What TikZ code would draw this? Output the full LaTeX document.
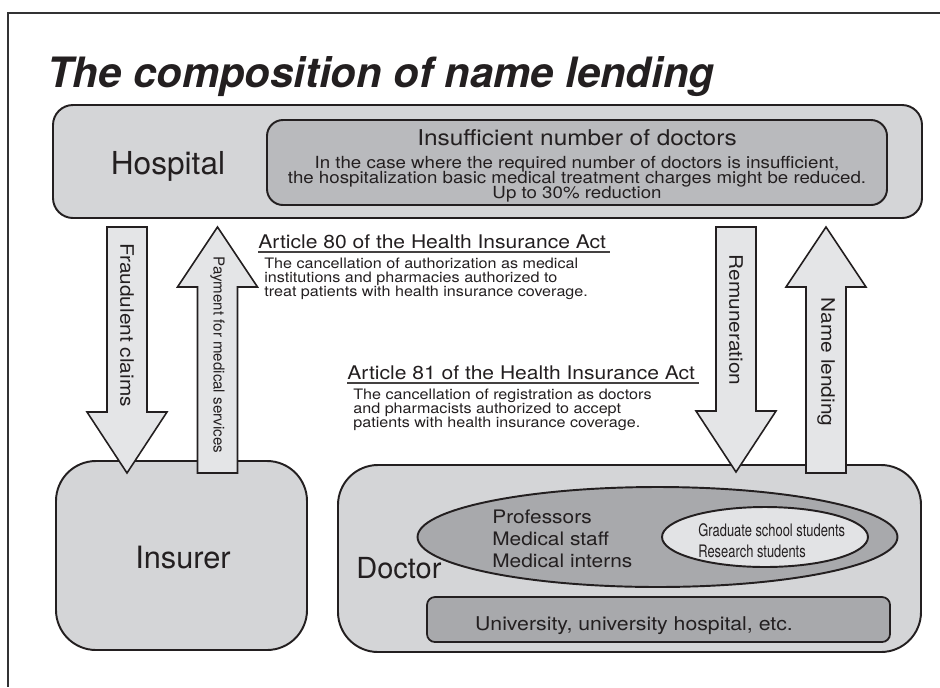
\documentclass[tikz,border=0pt]{standalone}
\usepackage{fontspec}
\setmainfont{TeX Gyre Heros}
\newfontfamily\wideheros[FakeStretch=1.12]{TeX Gyre Heros}
\newfontfamily\narrowheros[FakeStretch=0.75]{TeX Gyre Heros}
\usepackage{tikz}
\usetikzlibrary{positioning}
\usetikzlibrary{calc, fit, shapes.geometric}

\definecolor{ink}{RGB}{35,31,32}
\definecolor{panelgray}{RGB}{212,213,215}
\definecolor{darkpanel}{RGB}{185,186,189}
\definecolor{ovalgray}{RGB}{168,169,172}
\definecolor{arrowgray}{RGB}{228,229,231}
\definecolor{palegray}{RGB}{226,227,229}
\definecolor{framegray}{RGB}{50,50,52}

\newcommand{\tightlines}{\lineskiplimit=-100pt\relax}
% fat block arrows, shaft end first, tip second
\newcommand{\fatdown}[2]{%
  \draw[fatarrow] ($(#1)+(-20,0)$) -- ($(#1)+(20,0)$) -- ($(#2)+(20,-61)$)
    -- ($(#2)+(40,-61)$) -- (#2) -- ($(#2)+(-40,-61)$) -- ($(#2)+(-20,-61)$) -- cycle;}
\newcommand{\fatup}[2]{%
  \draw[fatarrow] ($(#1)+(-20,0)$) -- ($(#1)+(20,0)$) -- ($(#2)+(20,60)$)
    -- ($(#2)+(40,60)$) -- (#2) -- ($(#2)+(-40,60)$) -- ($(#2)+(-20,60)$) -- cycle;}

\begin{document}
\begin{tikzpicture}[x=0.02cm, y=-0.02cm,
		every node/.style={text=ink, inner sep=0pt},
		panel/.style={draw=ink, fill=panelgray, line width=1.1pt, rounded corners=#1},
		panel/.default=0.8cm,
		notebox/.style={draw=ink, fill=darkpanel, line width=1.1pt, rounded corners=0.32cm},
		fatarrow/.style={draw=ink, fill=arrowgray, line width=0.9pt},
		oval/.style={draw=ink, ellipse, line width=1.1pt},
		bigword/.style={font=\fontsize{18pt}{20pt}\selectfont},
		lawhead/.style={anchor=base west, font=\wideheros\fontsize{10.7pt}{12pt}\selectfont},
		lawbody/.style={anchor=base west, align=left, font=\wideheros\fontsize{8.2pt}{7.9pt}\selectfont\tightlines},
		armlabel/.style={rotate=-90, font=\wideheros\fontsize{10.6pt}{12pt}\selectfont},
		underline/.style={draw=ink!85, line width=0.6pt}
	]
	\useasboundingbox (0,0) rectangle (940,687);
	\draw[framegray, line width=1.1pt] (940,13) -- (8,13) -- (8,687);
	
	\node[anchor=base west, font=\fontsize{23.8pt}{28pt}\selectfont\bfseries\itshape] (title) at (47,87) {The composition of name lending};
	
	% hospital (multi-line texts sit on their last baseline)
	\node[panel=0.4cm, fit={(53,105) (922,218)}] (hospital) {};
	\node[notebox, fit={(267,120) (887,205)}] (shortage) {};
	\node[bigword, anchor=base] (hosplbl) at (168,174) {Hospital};
	\node[anchor=base, font=\wideheros\fontsize{12.4pt}{14pt}\selectfont] (shorttitle) at (577,145) {Insufficient number of doctors};
	\node[anchor=base, align=center, font=\wideheros\fontsize{9.5pt}{8.5pt}\selectfont\tightlines] (shortnote) at (577,198) {In the case where the required number of doctors is insufficient,\\the hospitalization basic medical treatment charges might be reduced.\\Up to 30\% reduction};
	
	% insurance act articles
	\node[lawhead] (art80) at (258,248) {Article 80 of the Health Insurance Act};
	\draw[underline] ($(art80.base west)+(0,4)$) -- ($(art80.base east)+(4,4)$);
	\node[lawbody] (art80txt) at (264,296) {The cancellation of authorization as medical\\institutions and pharmacies authorized to\\treat patients with health insurance coverage.};
	\node[lawhead] (art81) at (347,379) {Article 81 of the Health Insurance Act};
	\draw[underline] ($(art81.base west)+(0,4)$) -- ($(art81.base east)+(4,4)$);
	\node[lawbody] (art81txt) at (353,427) {The cancellation of registration as doctors\\and pharmacists authorized to accept\\patients with health insurance coverage.};
	
	% insurer and doctor
	\node[panel, fit={(56,461) (307,650)}] (insurer) {};
	\node[bigword, anchor=base, font=\fontsize{17.5pt}{20pt}\selectfont] (insurerlbl) at (183,568) {Insurer};
	\node[panel, fit={(338,465) (921,652)}] (doctor) {};
	\node[oval, fill=ovalgray, minimum width=9.6cm, minimum height=2cm] (staff) at (657.5,537) {};
	\node[oval, fill=palegray, minimum width=4.12cm, minimum height=1.2cm] (students) at (765,537) {};
	\node[anchor=base west, font=\fontsize{16.5pt}{18pt}\selectfont] (doctorlbl) at (356,578) {Doctor};
	\node[anchor=base west, align=left, font=\wideheros\fontsize{10.6pt}{12.5pt}\selectfont\tightlines] (stafflbl) at (492,567) {Professors\\Medical staff\\Medical interns};
	\node[anchor=base west, align=left, font=\narrowheros\fontsize{9.8pt}{11.9pt}\selectfont\tightlines] (studentslbl) at (698,557) {Graduate school students\\Research students};
	\node[panel=0.16cm, fill=ovalgray, line width=1pt, fit={(427,597) (890,642)}] (univ) {};
	\node[anchor=base, font=\wideheros\fontsize{10.8pt}{12pt}\selectfont] (univlbl) at (634,630) {University, university hospital, etc.};
	
	% money and name flows
	\coordinate (fraudtop) at (127,227);
	\coordinate (fraudtip) at (127,473);
	\coordinate (paybottom) at (217.5,473);
	\coordinate (paytip) at (217.5,227);
	\coordinate (remtop) at (736,227);
	\coordinate (remtip) at (736,472);
	\coordinate (lendbottom) at (826,473);
	\coordinate (lendtip) at (826,227);
	\fatdown{fraudtop}{fraudtip}
	\fatup{paybottom}{paytip}
	\fatdown{remtop}{remtip}
	\fatup{lendbottom}{lendtip}
	\node[armlabel] (fraudlbl) at (127,325) {Fraudulent claims};
	\node[armlabel, font=\fontsize{8.6pt}{10pt}\selectfont] (paylbl) at (217.5,355) {Payment for medical services};
	\node[armlabel] (remlbl) at (736,320) {Remuneration};
	\node[armlabel] (lendlbl) at (826,362) {Name lending};
\end{tikzpicture}
\end{document}
